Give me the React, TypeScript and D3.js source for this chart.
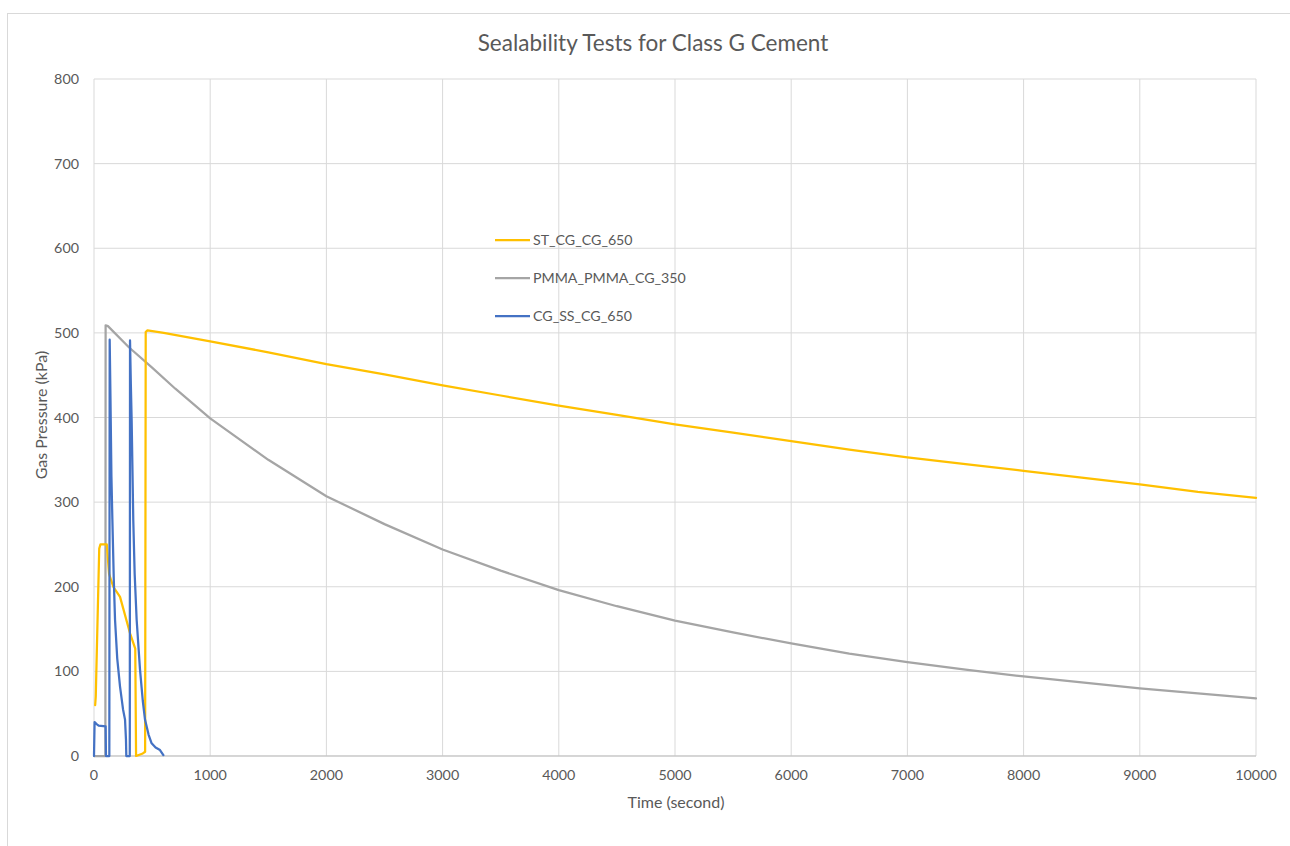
import React from "react";
import * as d3 from "d3";

// ST_CG_CG_650 (yellow)
const stTime = [10, 15, 45, 55, 110, 130, 166, 224, 310, 355, 362, 420, 440, 445, 460, 600, 1000, 1500, 2000, 2500, 3000, 3500, 4000, 4500, 5000, 5500, 6000, 6500, 7000, 7500, 8000, 8500, 9000, 9500, 10000];
const stPressure = [60, 70, 245, 250, 250, 215, 200, 188, 145, 127, 0, 3, 5, 501, 503, 500, 490, 477, 463, 451, 438, 426, 414, 403, 392, 382, 372, 362, 353, 345, 337, 329, 321, 312, 305];

// PMMA_PMMA_CG_350 (grey)
const pmmaTime = [0, 98, 100, 120, 300, 500, 700, 1000, 1500, 2000, 2500, 3000, 3500, 4000, 4500, 5000, 5500, 6000, 6500, 7000, 7500, 8000, 8500, 9000, 9500, 10000];
const pmmaPressure = [0, 0, 509, 508, 483, 459, 434, 399, 350, 307, 274, 244, 219, 196, 177, 160, 146, 133, 121, 111, 102, 94, 87, 80, 74, 68];

// CG_SS_CG_650 (blue)
const cgTime = [0, 5, 20, 40, 100, 103, 132, 135, 142, 150, 158, 170, 181, 200, 224, 250, 267, 275, 278, 308, 310, 317, 324, 338, 350, 367, 396, 420, 439, 470, 496, 530, 568, 597];
const cgPressure = [0, 40, 38, 36, 35, 0, 0, 492, 420, 330, 280, 210, 161, 115, 82, 55, 43, 20, 0, 0, 491, 440, 397, 279, 215, 161, 102, 65, 43, 25, 15, 10, 7, 1];

const seriesNames = ["ST_CG_CG_650", "PMMA_PMMA_CG_350", "CG_SS_CG_650"];
const seriesColors = ["#FFC000", "#A5A5A5", "#4472C4"];
const xTicks = [0, 1000, 2000, 3000, 4000, 5000, 6000, 7000, 8000, 9000, 10000];
const yTicks = [0, 100, 200, 300, 400, 500, 600, 700, 800];

const W = 1290;
const H = 846;
const left = 94;
const right = 1256;
const top = 79;
const bottom = 756;
const font = "Lato, 'Open Sans', sans-serif";
const textColor = "#595959";

export default function App() {
  const x = d3.scaleLinear().domain([0, 10000]).range([left, right]);
  const y = d3.scaleLinear().domain([0, 800]).range([bottom, top]);

  const series = [
    { t: stTime, v: stPressure },
    { t: pmmaTime, v: pmmaPressure },
    { t: cgTime, v: cgPressure },
  ];

  const line = d3
    .line<[number, number]>()
    .x((d) => x(d[0]))
    .y((d) => y(d[1]));

  // draw order: blue on top of yellow/grey like the original
  const order = [1, 0, 2];

  return (
    <svg
      width={W}
      height={H}
      style={{ position: "absolute", left: 0, top: 0, background: "#fff" }}
    >
      <rect x={7.5} y={13.5} width={W} height={H} fill="#fff" stroke="#D9D9D9" />

      {/* grid */}
      {yTicks.map((t) => (
        <line key={"gy" + t} x1={left} x2={right} y1={y(t)} y2={y(t)} stroke="#D9D9D9" strokeWidth={1} />
      ))}
      {xTicks.map((t) => (
        <line key={"gx" + t} x1={x(t)} x2={x(t)} y1={top} y2={bottom} stroke="#D9D9D9" strokeWidth={1} />
      ))}
      <line x1={left} x2={right} y1={bottom} y2={bottom} stroke="#BFBFBF" strokeWidth={1} />

      {/* tick labels */}
      {yTicks.map((t) => (
        <text key={"ty" + t} x={79} y={y(t)} dy="0.35em" textAnchor="end" fontSize={14.3} fill={textColor} fontFamily={font}>
          {t}
        </text>
      ))}
      {xTicks.map((t) => (
        <text key={"tx" + t} x={x(t)} y={775} dy="0.35em" textAnchor="middle" fontSize={14.3} fill={textColor} fontFamily={font}>
          {t}
        </text>
      ))}

      {/* titles */}
      <text x={653} y={43} dy="0.35em" textAnchor="middle" fontSize={22.5} fill={textColor} fontFamily={font}>
        Sealability Tests for Class G Cement
      </text>
      <text x={676} y={802} dy="0.35em" textAnchor="middle" fontSize={16} fill={textColor} fontFamily={font}>
        Time (second)
      </text>
      <text
        transform={`translate(41,415) rotate(-90)`}
        dy="0.35em"
        textAnchor="middle"
        fontSize={16}
        fill={textColor}
        fontFamily={font}
      >
        Gas Pressure (kPa)
      </text>

      {/* series */}
      {order.map((i) => {
        const s = series[i];
        const pts = s.t.map((t, k) => [t, s.v[k]] as [number, number]);
        return (
          <path
            key={"s" + i}
            d={line(pts) || ""}
            fill="none"
            stroke={seriesColors[i]}
            strokeWidth={2.25}
            strokeLinejoin="round"
            strokeLinecap="round"
          />
        );
      })}

      {/* legend */}
      {seriesNames.map((name, i) => (
        <g key={"lg" + i} transform={`translate(495,${240 + i * 38})`}>
          <line x1={0} x2={35} y1={0} y2={0} stroke={seriesColors[i]} strokeWidth={2.25} />
          <text x={38} y={0} dy="0.35em" fontSize={14.2} fill={textColor} fontFamily={font}>
            {name}
          </text>
        </g>
      ))}
    </svg>
  );
}
